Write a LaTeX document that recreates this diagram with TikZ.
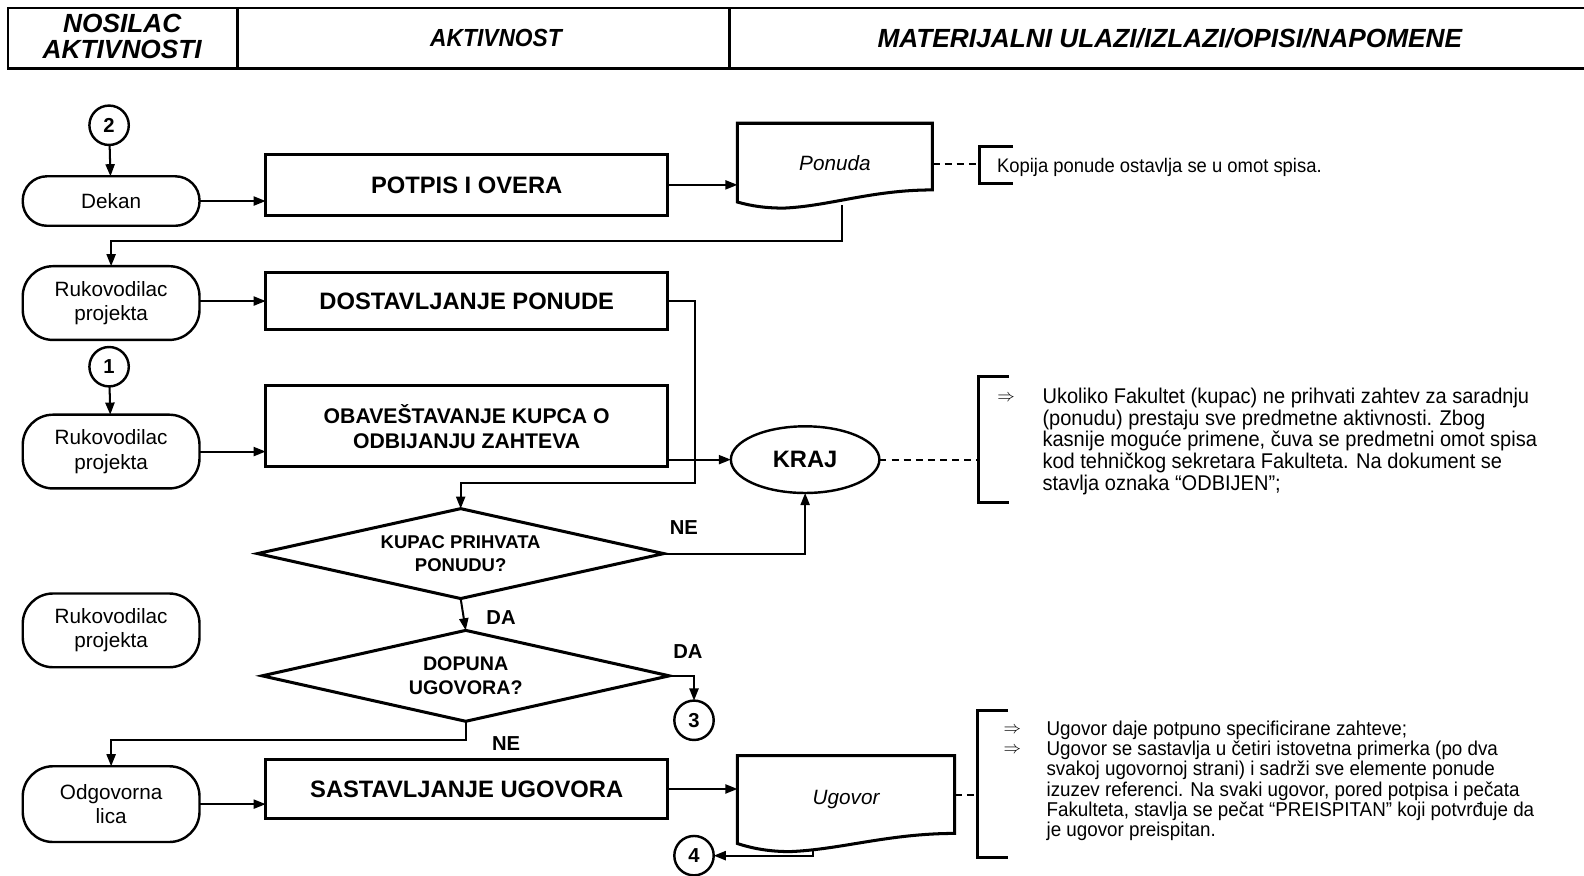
\documentclass[tikz,border=0pt]{standalone}
\usepackage{fontspec}
\setmainfont{Liberation Sans}
\newfontfamily\narrowsans{Liberation Sans}[FakeStretch=0.94]
\newfontfamily\headnarrow{Liberation Sans}[FakeStretch=0.92]
\usetikzlibrary{shapes.geometric,arrows.meta,calc}
\begin{document}
\begin{tikzpicture}[x=1pt,y=-1pt,
  every node/.style={inner sep=0pt,outer sep=0pt},
  hdr/.style={font=\fontsize{26}{29}\selectfont\bfseries\itshape,align=center},
  term/.style={draw,line width=2.4pt,rounded corners=30pt,minimum width=175pt,minimum height=73pt,align=center,font=\fontsize{20.5}{24}\selectfont},
  procbox/.style={draw,line width=3pt,minimum width=398pt,minimum height=58pt,align=center,font=\fontsize{23.5}{26}\selectfont\bfseries},
  decision/.style={minimum width=402pt,minimum height=89pt,align=center},
  decline/.style={line width=3pt,line join=miter},
  conn/.style={draw,circle,line width=2.4pt,minimum size=39pt,font=\fontsize{20}{24}\selectfont\bfseries},
  docnode/.style={font=\fontsize{20.5}{24}\selectfont\itshape},
  docline/.style={line width=3pt,line join=miter},
  flow/.style={line width=2pt,-{Triangle[length=12pt,width=9pt]}},
  note/.style={line width=2pt,dash pattern=on 7pt off 5pt},
  bracket/.style={line width=3pt},
  lbl/.style={font=\fontsize{20}{24}\selectfont\bfseries},
  ann/.style={align=left,anchor=west},
  darrow/.style={font=\fontsize{18}{20}\selectfont},
]
\useasboundingbox (0,0) rectangle (1568,867);

% ---- header row
\draw[line width=2.5pt] (1568,8) -- (8,8) -- (8,68) -- (1568,68);
\draw[line width=2.5pt] (235,8) -- (235,68) (722,8) -- (722,68);
\node[hdr] (h1) at (121,36) {NOSILAC\\[-4pt]AKTIVNOSTI};
\node[hdr,font=\headnarrow\fontsize{24.5}{27}\selectfont\bfseries\itshape] (h2) at (491,38) {AKTIVNOST};
\node[hdr] (h3) at (1158,38) {MATERIJALNI ULAZI/IZLAZI/OPISI/NAPOMENE};

% ---- actors
\node[conn] (c2) at (108,124) {2};
\node[term,minimum height=49pt,rounded corners=24pt] (dekan) at (110,199) {Dekan};
\node[term] (rk1) at (110,300) {Rukovodilac\\projekta};
\node[conn] (c1) at (108,363) {1};
\node[term] (rk2) at (110,447) {Rukovodilac\\projekta};
\node[term] (rk3) at (110,624) {Rukovodilac\\projekta};
\node[term,minimum height=75pt] (odg) at (110,796) {Odgovorna\\lica};

% ---- activities
\node[procbox,minimum height=60pt] (potpis) at (462,183) {POTPIS I OVERA};
\node[procbox,minimum height=57pt] (dostav) at (462,298) {DOSTAVLJANJE PONUDE};
\node[procbox,minimum height=80pt,font=\fontsize{21}{25}\selectfont\bfseries] (obav) at (462,422) {OBAVEŠTAVANJE KUPCA O\\ODBIJANJU ZAHTEVA};
\node[draw,ellipse,line width=2.4pt,minimum width=147pt,minimum height=66pt,font=\fontsize{23.5}{26}\selectfont\bfseries] (kraj) at (797,455) {KRAJ};

\node[decision,font=\fontsize{18.3}{22}\selectfont\bfseries] (d1) at (456,548) {KUPAC PRIHVATA\\PONUDU?};
\draw[decline] (d1.north) -- (d1.east) -- (d1.south) -- (d1.west) -- cycle;
\node[decision,minimum width=403pt,minimum height=90pt,font=\fontsize{19.5}{24}\selectfont\bfseries] (d2) at (461,669) {DOPUNA\\UGOVORA?};
\draw[decline] (d2.north) -- (d2.east) -- (d2.south) -- (d2.west) -- cycle;

\node[conn] (c3) at (687,713) {3};
\node[procbox,minimum height=59pt] (sast) at (462,781) {SASTAVLJANJE UGOVORA};
\node[conn] (c4) at (687,847) {4};

% ---- documents (wavy bottom edge)
\node[docnode,minimum width=193pt,minimum height=78pt] (ponuda) at (826.5,161) {Ponuda};
\draw[docline] (ponuda.north west) -- (ponuda.north east) -- ($(ponuda.south east)+(0,-12)$)
  .. controls +(-60,0) and +(45,-2) .. ($(ponuda.south west)+(46,6)$)
  .. controls +(-18,0) and +(14,4) .. (ponuda.south west) -- cycle;
\coordinate (ponudaout) at ($(ponuda.south west)+(103,3)$);

\node[docnode,minimum width=215pt,minimum height=87pt] (ugovor) at (837.5,791.5) {Ugovor};
\draw[docline] (ugovor.north west) -- (ugovor.north east) -- ($(ugovor.south east)+(0,-10)$)
  .. controls +(-65,0) and +(50,-2) .. ($(ugovor.south west)+(52,8)$)
  .. controls +(-20,0) and +(15,5) .. (ugovor.south west) -- cycle;
\coordinate (ugovorout) at ($(ugovor.south west)+(75,7)$);

% ---- flow connectors
\draw[flow] (c2) -- (dekan);
\draw[flow] (dekan.east) -- (dekan.east -| potpis.west);
\draw[flow] (potpis.east) -- (potpis.east -| ponuda.west);
\draw[flow] (ponudaout) |- ($(rk1.north)+(0,-25)$) -- (rk1.north);
\draw[flow] (dostav.west -| rk1.east) -- (dostav.west);
\draw[flow] (dostav.east) -- ++(27,0) |- ($(d1.north)+(0,-25)$) -- (d1.north);
\draw[flow] (c1) -- (rk2);
\draw[flow] (rk2.east) -- (rk2.east -| obav.west);
\draw[flow] (kraj.west -| obav.east) -- (kraj.west);
\draw[flow] (d1.east) -| (kraj.south);
\draw[flow] (d1.south) -- (d2.north);
\draw[flow] (d2.east) -| (c3.north);
\draw[flow] (d2.south) |- ($(odg.north)+(0,-26)$) -- (odg.north);
\draw[flow] (odg.east) -- (odg.east -| sast.west);
\draw[flow] (sast.east) -- (sast.east -| ugovor.west);
\draw[flow] (ugovorout) |- (c4.east);

% ---- branch labels
\node[lbl] (ne1) at (677,522) {NE};
\node[lbl] (da1) at (496,611) {DA};
\node[lbl] (da2) at (681,645) {DA};
\node[lbl] (ne2) at (501,736) {NE};

% ---- notes
\coordinate (b1) at (970,162);
\draw[note] (ponuda.east |- b1) -- (b1);
\draw[bracket] ($(b1)+(33,-17)$) -- ($(b1)+(0,-17)$) -- ($(b1)+(0,20)$) -- ($(b1)+(33,20)$);
\node[anchor=west,font=\narrowsans\fontsize{19.4}{21}\selectfont] (kopija) at (987,166) {Kopija ponude ostavlja se u omot spisa.};

\coordinate (b2) at (969,455);
\draw[note] (kraj.east) -- (b2);
\draw[bracket] ($(b2)+(30,-82)$) -- ($(b2)+(0,-82)$) -- ($(b2)+(0,42)$) -- ($(b2)+(30,42)$);
\node[darrow] (r1) at (996,394) {$\Rightarrow$};
\node[ann,font=\narrowsans\fontsize{21.1}{21.3}\selectfont] (t1) at (1032,437) {Ukoliko Fakultet (kupac) ne prihvati zahtev za saradnju\\(ponudu) prestaju sve predmetne aktivnosti. Zbog\\kasnije moguće primene, čuva se predmetni omot spisa\\kod tehničkog sekretara Fakulteta. Na dokument se\\stavlja oznaka “ODBIJEN”;};

\coordinate (b3) at (968,787);
\draw[note] (ugovor.east |- b3) -- (b3);
\draw[bracket] ($(b3)+(30,-84)$) -- ($(b3)+(0,-84)$) -- ($(b3)+(0,62)$) -- ($(b3)+(30,62)$);
\node[darrow] (r2) at (1002,723) {$\Rightarrow$};
\node[darrow] (r3) at (1002,743) {$\Rightarrow$};
\node[ann,font=\narrowsans\fontsize{19.8}{20}\selectfont] (t2) at (1036,773) {Ugovor daje potpuno specificirane zahteve;\\Ugovor se sastavlja u četiri istovetna primerka (po dva\\svakoj ugovornoj strani) i sadrži sve elemente ponude\\izuzev referenci. Na svaki ugovor, pored potpisa i pečata\\Fakulteta, stavlja se pečat “PREISPITAN” koji potvrđuje da\\je ugovor preispitan.};
\end{tikzpicture}
\end{document}
